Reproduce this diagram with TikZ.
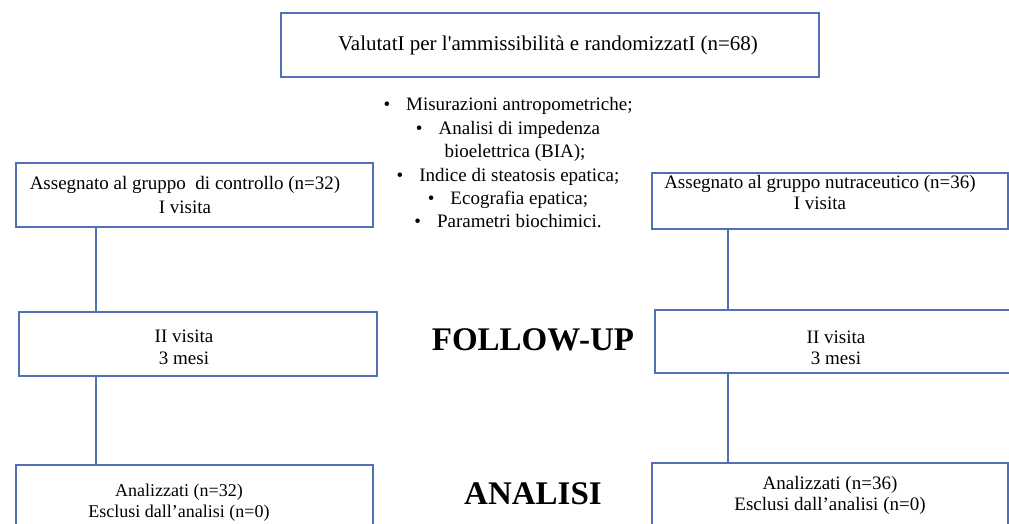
\documentclass[tikz,border=0pt]{standalone}
\usepackage{fontspec}
\setmainfont{Liberation Serif}
\definecolor{bordo}{RGB}{80,114,180}
\tikzset{
	casella/.style={draw=bordo, line width=1.2pt, inner sep=0pt},
	testo/.style={align=center, inner sep=0pt, font=\fontsize{19}{21}\selectfont},
	linea/.style={draw=bordo, line width=1.2pt},
	fase/.style={font=\fontsize{33}{36}\selectfont\bfseries}
}
\begin{document}
\begin{tikzpicture}[x=1pt, y=-1pt]
		\useasboundingbox ( 0, 0 ) rectangle ( 1009, 524 );
		\clip ( 0, 0 ) rectangle ( 1009, 524 );

		% randomizzazione
		\node [casella, minimum width=538, minimum height=64] (rand) at ( 550, 45 ) {};
		\node [testo, font=\fontsize{21}{24}\selectfont] (randt) at ( 548, 45 )
			{ValutatI per l\textquotesingle ammissibilità e randomizzatI (n=68)};

		% valutazioni
		\node [align=center, font=\fontsize{19}{23.4}\selectfont] (valut) at ( 508, 163 )
			{\textbullet\hspace{16pt}Misurazioni antropometriche;\\
			 \textbullet\hspace{16pt}Analisi di impedenza\\
			 \hspace{14pt}bioelettrica (BIA);\\
			 \textbullet\hspace{16pt}Indice di steatosis epatica;\\
			 \textbullet\hspace{16pt}Ecografia epatica;\\
			 \textbullet\hspace{16pt}Parametri biochimici.};

		% gruppo di controllo
		\node [casella, minimum width=357, minimum height=64] (ctl1) at ( 194.5, 195 ) {};
		\node [testo, font=\fontsize{19}{24}\selectfont] (ctl1t) at ( 185, 195 )
			{Assegnato al gruppo \ di controllo (n=32)\\I visita};
		\node [casella, minimum width=358, minimum height=64] (ctl2) at ( 198, 344 ) {};
		\node [testo, font=\fontsize{19}{22}\selectfont] (ctl2t) at ( 184, 347 )
			{II visita\\3 mesi};
		\node [casella, minimum width=357, minimum height=80] (ctl3) at ( 194.5, 505 ) {};
		\node [testo, font=\fontsize{18}{21}\selectfont] (ctl3t) at ( 179, 503 )
			{Analizzati (n=32)\\Esclusi dall’analisi (n=0)};

		% gruppo nutraceutico
		\node [casella, minimum width=356, minimum height=56] (nut1) at ( 830, 201 ) {};
		\node [testo] (nut1t) at ( 820, 193 )
			{Assegnato al gruppo nutraceutico (n=36)\\I visita};
		\node [casella, minimum width=362, minimum height=63] (nut2) at ( 836, 341.5 ) {};
		\node [testo] (nut2t) at ( 836, 348 )
			{II visita\\3 mesi};
		\node [casella, minimum width=356, minimum height=76] (nut3) at ( 830, 501 ) {};
		\node [testo] (nut3t) at ( 830, 495 )
			{Analizzati (n=36)\\Esclusi dall’analisi (n=0)};

		% fasi
		\node [fase] (follow) at ( 533, 340 ) {FOLLOW-UP};
		\node [fase] (analisi) at ( 533, 494 ) {ANALISI};

		% collegamenti
		\coordinate (sx) at ( 96, 0 );
		\coordinate (dx) at ( 728, 0 );
		\draw [linea] (ctl1.south -| sx) -- (ctl2.north -| sx);
		\draw [linea] (ctl2.south -| sx) -- (ctl3.north -| sx);
		\draw [linea] (nut1.south -| dx) -- (nut2.north -| dx);
		\draw [linea] (nut2.south -| dx) -- (nut3.north -| dx);
	\end{tikzpicture}
\end{document}
